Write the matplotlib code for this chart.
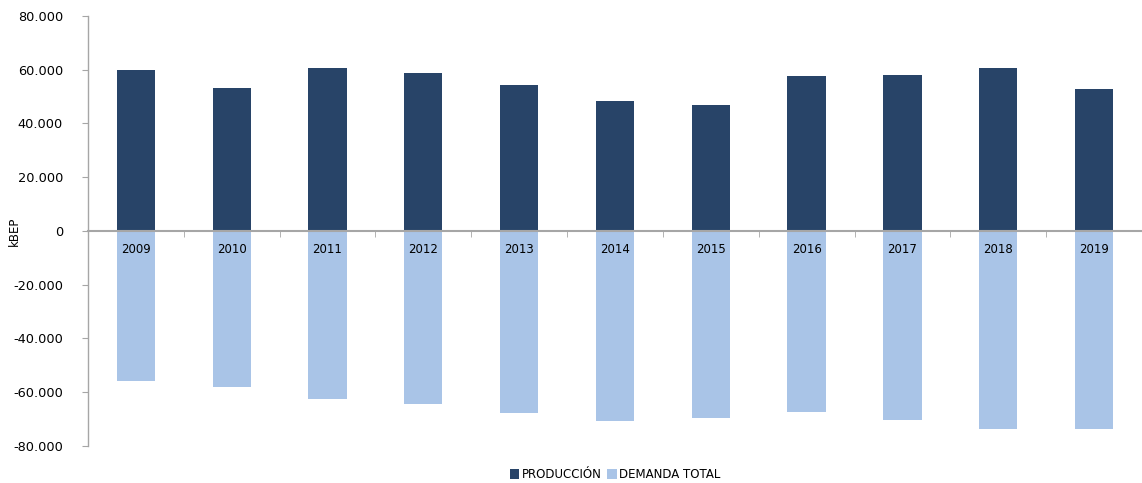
import numpy as np
import matplotlib.pyplot as plt
from matplotlib.ticker import FuncFormatter, MultipleLocator

YEARS = ["2009", "2010", "2011", "2012", "2013", "2014", "2015", "2016", "2017", "2018", "2019"]

# kBEP
PRODUCCION = [59900, 53100, 60500, 58800, 54300, 48300, 46900, 57700, 58000, 60500, 52900]
DEMANDA = [-55700, -58200, -62500, -64400, -67700, -70700, -69500, -67600, -70400, -73600, -73800]

DARK = "#284468"
LIGHT = "#a9c4e7"
GREY = "#a6a6a6"

plt.rcParams["font.family"] = ["DejaVu Sans"]
plt.rcParams["font.size"] = 8.5

fig = plt.figure(figsize=(11.42, 4.83), dpi=100)
ax = fig.add_axes([0.077, 0.077, 0.923, 0.89])

x = np.arange(len(YEARS))
ax.bar(x, PRODUCCION, width=0.4, color=DARK, label="PRODUCCIÓN", zorder=1)
ax.bar(x, DEMANDA, width=0.4, color=LIGHT, label="DEMANDA TOTAL", zorder=1)

ax.set_xlim(-0.5, len(YEARS) - 0.5)
ax.set_ylim(-80000, 80000)
ax.yaxis.set_major_locator(MultipleLocator(20000))
ax.yaxis.set_major_formatter(
    FuncFormatter(lambda v, _: f"{v:,.0f}".replace(",", "."))
)

# x axis sits on zero, year labels just under it
for s in ["top", "right"]:
    ax.spines[s].set_visible(False)
ax.spines["bottom"].set_position(("data", 0))
ax.spines["bottom"].set_color(GREY)
ax.spines["bottom"].set_linewidth(1.5)
ax.spines["left"].set_color(GREY)
ax.spines["left"].set_linewidth(1)

ax.set_xticks(x)
ax.set_xticklabels(YEARS)
ax.set_xticks(np.arange(len(YEARS) + 1) - 0.5, minor=True)
ax.tick_params(axis="x", which="major", length=0, pad=9)
ax.tick_params(axis="x", which="minor", length=4, color=GREY, direction="out")
ax.tick_params(axis="y", length=4, color=GREY, pad=14, labelsize=9.3)
ax.xaxis.set_zorder(3)

ax.set_ylabel("kBEP")
ax.yaxis.set_label_coords(-0.064, 0.5)

ax.legend(
    loc="center",
    bbox_to_anchor=(0.5, -0.067),
    ncol=2,
    frameon=False,
    handlelength=0.8,
    handleheight=0.8,
    handletextpad=0.2,
    columnspacing=0.5,
)

fig.savefig("out.png", dpi=100)
